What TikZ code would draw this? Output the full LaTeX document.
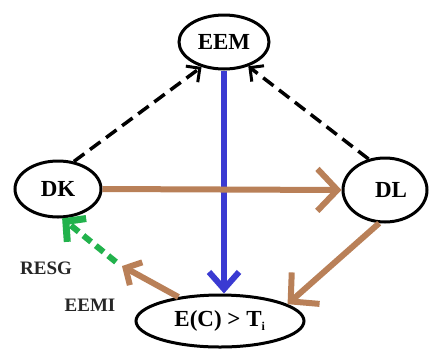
\documentclass[tikz,border=0pt]{standalone}
\usepackage{fontspec}
\setmainfont{Liberation Serif}
\usetikzlibrary{arrows.meta,shapes.geometric}
\definecolor{brn}{RGB}{185,128,88}
\definecolor{blu}{RGB}{58,58,210}
\definecolor{grn}{RGB}{34,178,76}
\tikzset{
  ell/.style={draw=black,line width=3pt,ellipse,inner sep=0pt,font=\bfseries\fontsize{23}{23}\selectfont},
  lbl/.style={font=\bfseries\fontsize{19}{19}\selectfont,text=black!85},
  dsh/.style={draw=black,line width=3.5pt,dash pattern=on 13pt off 7pt,-{Straight Barb[length=10pt,width=20pt,line width=3pt]}},
  brarrow/.style={draw=brn,line width=6pt,-{Straight Barb[length=20pt,width=42pt,line width=6pt]}},
  brsmall/.style={draw=brn,line width=6pt,-{Straight Barb[length=12pt,width=26pt,line width=6pt]}},
  blarrow/.style={draw=blu,line width=6pt,-{Straight Barb[length=17pt,width=30pt,line width=6pt]}},
  grarrow/.style={draw=grn,line width=6pt,dash pattern=on 10pt off 6pt,-{Straight Barb[length=14pt,width=30pt,line width=7pt]}}
}
\begin{document}
\begin{tikzpicture}[x=1pt,y=-1pt]
\fill[white] (0,0) rectangle (430,354);
\useasboundingbox (0,0) rectangle (430,354);
\node[ell,minimum width=90pt,minimum height=54pt] (EEM) at (224,42) {EEM};
\node[ell,minimum width=86pt,minimum height=56pt] (DK) at (58,189) {DK};
\node[ell,minimum width=84pt,minimum height=64pt] (DL) at (385,190) {\kern12pt DL};
\node[ell,minimum width=168pt,minimum height=52pt] (E) at (220,321) {E(C) > T\textsubscript{\fontsize{12}{12}\selectfont i}};
\node[lbl] (resg) at (46,268) {RESG};
\node[lbl] (eemi) at (90,305) {EEMI};
\coordinate (ee) at (122,266);
\coordinate (gs) at (116,262);
\draw[dsh] (DK.60) -- (EEM.228);
\draw[dsh] (DL.118) -- (EEM.-45);
\draw[blarrow] (EEM.south) -- (EEM.south |- E.north);
\draw[brarrow] (DK.east) -- (DL.west);
\draw[brarrow] (DL.-100) -- (E.14);
\draw[brsmall] (E.150) -- (ee);
\draw[grarrow] (gs) -- (DK.-82);
\end{tikzpicture}
\end{document}
